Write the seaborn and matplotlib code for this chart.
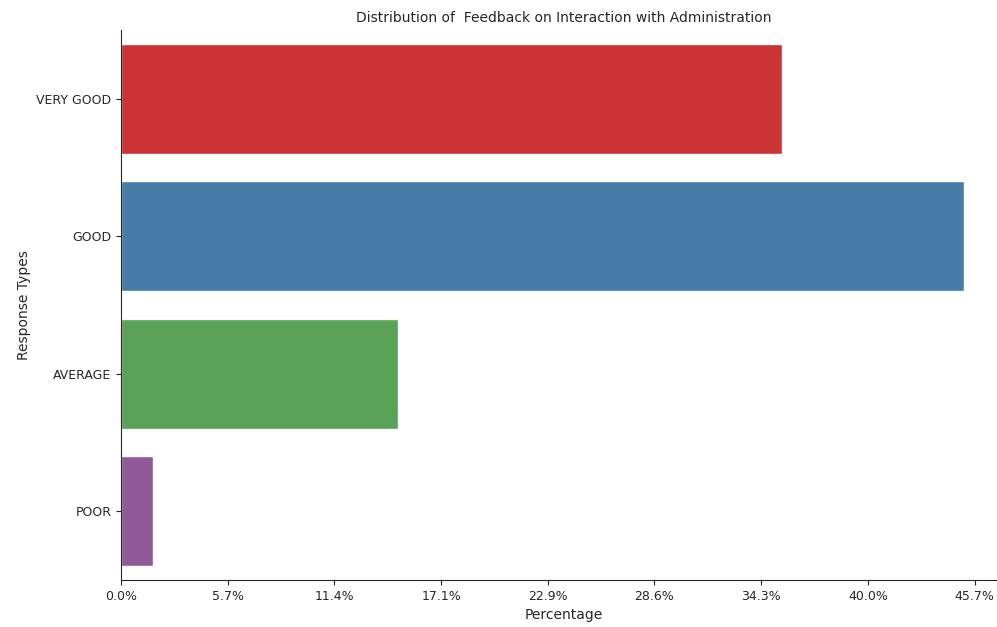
# imports
import pandas as pd
import matplotlib
matplotlib.use('Agg')
import matplotlib.pyplot as plt
from matplotlib.ticker import PercentFormatter
import seaborn as sns

# ====================================================================================================

responses = ['VERY GOOD', 'GOOD', 'AVERAGE', 'POOR']
counts = [124, 158, 52, 6]
total_responses = 350

# ====================================================================================================

def main():
    sns.set_style('ticks')
    plt.rcParams['font.family'] = ['DejaVu Sans']

    df = pd.DataFrame({'response': responses, 'count': counts})

    fig = plt.figure(figsize=(9.97, 6.27), dpi=100)
    ax = fig.add_axes([121 / 997, 47 / 627, 885 / 997, 550 / 627])

    sns.barplot(data=df, x='count', y='response', hue='response', order=responses,
                palette='Set1', legend=False, ax=ax)

    ax.xaxis.set_major_formatter(PercentFormatter(xmax=total_responses, decimals=1))
    ax.tick_params(labelsize=9)

    ax.set_xlabel('Percentage', fontsize=10)
    ax.set_ylabel('Response Types', fontsize=10)
    ax.set_title('Distribution of  Feedback on Interaction with Administration', fontsize=10)

    sns.despine(ax=ax)

    plt.savefig('out.png', dpi=100)

# ====================================================================================================

if __name__ == '__main__':
    main()
